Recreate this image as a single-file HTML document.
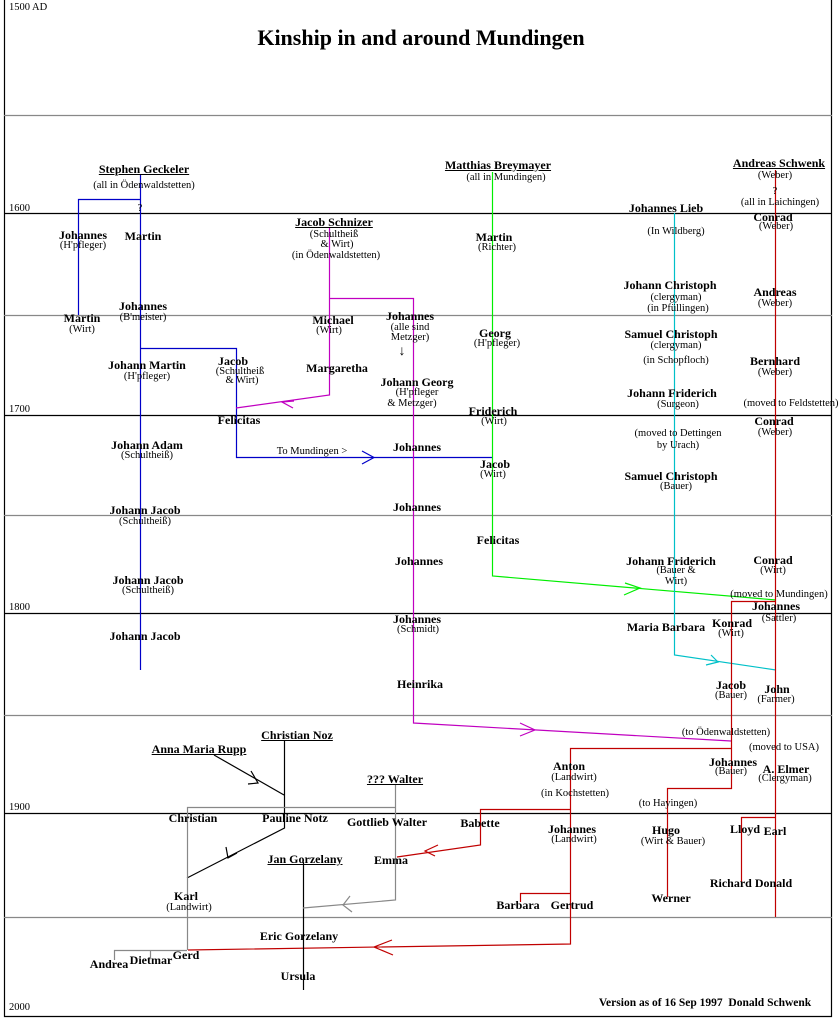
<!DOCTYPE html>
<html><head><meta charset="utf-8"><style>
body{margin:0;background:#fff}
#c{position:relative;width:840px;height:1036px;overflow:hidden;background:#fff;font-family:"Liberation Serif",serif}
svg{position:absolute;left:0;top:0}
.n,.s,.u{position:absolute;transform:translateX(-50%);white-space:nowrap;color:#000}
.n{font-weight:bold;font-size:12px;line-height:14px}
.u{font-weight:bold;font-size:12px;line-height:14px;text-decoration:underline}
.s{font-size:10.5px;line-height:11px}
.y{position:absolute;font-size:10.5px;line-height:11px}
</style></head><body><div id="c">
<svg width="840" height="1036" fill="none" stroke-width="1.2">
<g stroke="#000"><path d="M4.5 0V1016.5H831.5V0"/><path d="M4 213.5H832M4 415.5H832M4 613.5H832M4 813.5H832"/></g>
<g stroke="#888"><path d="M4 115.5H832M4 315.5H832M4 515.5H832M4 715.5H832M4 917.5H832"/></g>
<g stroke="#0000c8"><path d="M140.5 175V670M140 199.5H78.5V315M140 348.5H236.5V457.5H492"/><path d="M362 451L374 457.5L362 464"/></g>
<g stroke="#c000c0"><path d="M329.5 228V395L236 408M329 298.5H413.5V723L731 741"/><path d="M294 401L282 402L293 408M520 723L535 730L520 736"/></g>
<g stroke="#00ee00"><path d="M492.5 172V576L776 600"/><path d="M625 583L640 588L624 595"/></g>
<g stroke="#00c0c8"><path d="M674.5 213V655L776 670"/><path d="M711 655L718 662L706 665"/></g>
<g stroke="#c00000"><path d="M775.5 170V917M775 601.5H731.5V788.5H667.5V897M731 748.5H570.5V944L188 950M570 809.5H480.5V845L397 857M570 893.5H520.5V902M775 817.5H741.5V882"/><path d="M392 940L374 947L393 955M438 845L425 851L435 856"/></g>
<g stroke="#000"><path d="M284.5 740V828L187 878M214 755L284 795M303.5 862V990"/><path d="M251 771L258 783L248 784M226 847L228 858L237 853"/></g>
<g stroke="#888"><path d="M187 807.5H395.5V785M395.5 807V900L303 908M187.5 807V950M187 950.5H114.5V960M150.5 950V958"/><path d="M350 896L343 905L352 912"/></g>
</svg>
<div class="y" style="left:9px;top:2px">1500 AD</div>
<div class="y" style="left:9px;top:203px">1600</div>
<div class="y" style="left:9px;top:404px">1700</div>
<div class="y" style="left:9px;top:602px">1800</div>
<div class="y" style="left:9px;top:802px">1900</div>
<div class="y" style="left:9px;top:1002px">2000</div>
<div class="n" style="left:421px;top:24px;font-size:22px;line-height:28px">Kinship in and around Mundingen</div>

<div class="u" style="left:144px;top:162px">Stephen Geckeler</div><div class="s" style="left:144px;top:180px">(all in Ödenwaldstetten)</div>
<div class="s" style="left:140px;top:203px">?</div>
<div class="n" style="left:83px;top:228px">Johannes</div><div class="s" style="left:83px;top:240px">(H'pfleger)</div>
<div class="n" style="left:143px;top:229px">Martin</div>
<div class="n" style="left:82px;top:311px">Martin</div><div class="s" style="left:82px;top:324px">(Wirt)</div>
<div class="n" style="left:143px;top:299px">Johannes</div><div class="s" style="left:143px;top:312px">(B'meister)</div>
<div class="n" style="left:147px;top:358px">Johann Martin</div><div class="s" style="left:147px;top:371px">(H'pfleger)</div>
<div class="n" style="left:233px;top:354px">Jacob</div><div class="s" style="left:240px;top:366px">(Schultheiß</div><div class="s" style="left:242px;top:375px">&amp; Wirt)</div>
<div class="n" style="left:239px;top:413px">Felicitas</div>
<div class="n" style="left:147px;top:438px">Johann Adam</div><div class="s" style="left:147px;top:450px">(Schultheiß)</div>
<div class="n" style="left:145px;top:503px">Johann Jacob</div><div class="s" style="left:145px;top:516px">(Schultheiß)</div>
<div class="n" style="left:148px;top:573px">Johann Jacob</div><div class="s" style="left:148px;top:585px">(Schultheiß)</div>
<div class="n" style="left:145px;top:629px">Johann Jacob</div>

<div class="u" style="left:334px;top:215px">Jacob Schnizer</div><div class="s" style="left:334px;top:229px">(Schultheiß</div><div class="s" style="left:337px;top:239px">&amp; Wirt)</div><div class="s" style="left:336px;top:250px">(in Ödenwaldstetten)</div>
<div class="n" style="left:333px;top:313px">Michael</div><div class="s" style="left:329px;top:325px">(Wirt)</div>
<div class="n" style="left:337px;top:361px">Margaretha</div>
<div class="n" style="left:410px;top:309px">Johannes</div><div class="s" style="left:410px;top:322px">(alle sind</div><div class="s" style="left:410px;top:332px">Metzger)</div><div class="s" style="left:402px;top:344px;font-size:14px;line-height:16px">↓</div>
<div class="n" style="left:417px;top:375px">Johann Georg</div><div class="s" style="left:417px;top:387px">(H'pfleger</div><div class="s" style="left:412px;top:398px">&amp; Metzger)</div>
<div class="n" style="left:417px;top:440px">Johannes</div>
<div class="s" style="left:312px;top:446px">To Mundingen &gt;</div>
<div class="n" style="left:417px;top:500px">Johannes</div>
<div class="n" style="left:419px;top:554px">Johannes</div>
<div class="n" style="left:417px;top:612px">Johannes</div><div class="s" style="left:418px;top:624px">(Schmidt)</div>
<div class="n" style="left:420px;top:677px">Heinrika</div>

<div class="u" style="left:498px;top:158px">Matthias Breymayer</div><div class="s" style="left:506px;top:172px">(all in Mundingen)</div>
<div class="n" style="left:494px;top:230px">Martin</div><div class="s" style="left:497px;top:242px">(Richter)</div>
<div class="n" style="left:495px;top:326px">Georg</div><div class="s" style="left:497px;top:338px">(H'pfleger)</div>
<div class="n" style="left:493px;top:404px">Friderich</div><div class="s" style="left:494px;top:416px">(Wirt)</div>
<div class="n" style="left:495px;top:457px">Jacob</div><div class="s" style="left:493px;top:469px">(Wirt)</div>
<div class="n" style="left:498px;top:533px">Felicitas</div>

<div class="n" style="left:666px;top:201px">Johannes Lieb</div><div class="s" style="left:676px;top:226px">(In Wildberg)</div>
<div class="n" style="left:670px;top:278px">Johann Christoph</div><div class="s" style="left:676px;top:292px">(clergyman)</div><div class="s" style="left:678px;top:303px">(in Pfüllingen)</div>
<div class="n" style="left:671px;top:327px">Samuel Christoph</div><div class="s" style="left:676px;top:340px">(clergyman)</div><div class="s" style="left:676px;top:355px">(in Schopfloch)</div>
<div class="n" style="left:672px;top:386px">Johann Friderich</div><div class="s" style="left:678px;top:399px">(Surgeon)</div>
<div class="s" style="left:678px;top:428px">(moved to Dettingen</div><div class="s" style="left:678px;top:440px">by Urach)</div>
<div class="n" style="left:671px;top:469px">Samuel Christoph</div><div class="s" style="left:676px;top:481px">(Bauer)</div>
<div class="n" style="left:671px;top:554px">Johann Friderich</div><div class="s" style="left:676px;top:565px">(Bauer &amp;</div><div class="s" style="left:676px;top:576px">Wirt)</div>
<div class="n" style="left:666px;top:620px">Maria Barbara</div>
<div class="n" style="left:732px;top:616px">Konrad</div><div class="s" style="left:731px;top:628px">(Wirt)</div>
<div class="n" style="left:731px;top:678px">Jacob</div><div class="s" style="left:731px;top:690px">(Bauer)</div>
<div class="n" style="left:777px;top:682px">John</div><div class="s" style="left:776px;top:694px">(Farmer)</div>

<div class="u" style="left:779px;top:156px">Andreas Schwenk</div><div class="s" style="left:775px;top:170px">(Weber)</div><div class="s" style="left:775px;top:186px">?</div><div class="s" style="left:780px;top:197px">(all in Laichingen)</div>
<div class="n" style="left:773px;top:210px">Conrad</div><div class="s" style="left:776px;top:221px">(Weber)</div>
<div class="n" style="left:775px;top:285px">Andreas</div><div class="s" style="left:775px;top:298px">(Weber)</div>
<div class="n" style="left:775px;top:354px">Bernhard</div><div class="s" style="left:775px;top:367px">(Weber)</div>
<div class="s" style="left:791px;top:398px">(moved to Feldstetten)</div>
<div class="n" style="left:774px;top:414px">Conrad</div><div class="s" style="left:775px;top:427px">(Weber)</div>
<div class="n" style="left:773px;top:553px">Conrad</div><div class="s" style="left:773px;top:565px">(Wirt)</div>
<div class="s" style="left:779px;top:589px">(moved to Mundingen)</div>
<div class="n" style="left:776px;top:599px">Johannes</div><div class="s" style="left:779px;top:613px">(Sattler)</div>
<div class="s" style="left:726px;top:727px">(to Ödenwaldstetten)</div>
<div class="s" style="left:784px;top:742px">(moved to USA)</div>
<div class="n" style="left:733px;top:755px">Johannes</div><div class="s" style="left:731px;top:766px">(Bauer)</div>
<div class="n" style="left:786px;top:762px">A. Elmer</div><div class="s" style="left:785px;top:773px">(Clergyman)</div>
<div class="n" style="left:569px;top:759px">Anton</div><div class="s" style="left:574px;top:772px">(Landwirt)</div>
<div class="s" style="left:575px;top:788px">(in Kochstetten)</div>
<div class="s" style="left:668px;top:798px">(to Hayingen)</div>
<div class="n" style="left:572px;top:822px">Johannes</div><div class="s" style="left:574px;top:834px">(Landwirt)</div>
<div class="n" style="left:666px;top:823px">Hugo</div><div class="s" style="left:673px;top:836px">(Wirt &amp; Bauer)</div>
<div class="n" style="left:745px;top:822px">Lloyd</div><div class="n" style="left:775px;top:824px">Earl</div>
<div class="n" style="left:751px;top:876px">Richard Donald</div>
<div class="n" style="left:671px;top:891px">Werner</div>
<div class="n" style="left:518px;top:898px">Barbara</div><div class="n" style="left:572px;top:898px">Gertrud</div>
<div class="n" style="left:480px;top:816px">Babette</div>
<div class="n" style="left:391px;top:853px">Emma</div>
<div class="n" style="left:387px;top:815px">Gottlieb Walter</div>
<div class="u" style="left:395px;top:772px">??? Walter</div>
<div class="u" style="left:297px;top:728px">Christian Noz</div>
<div class="u" style="left:199px;top:742px">Anna Maria Rupp</div>
<div class="n" style="left:193px;top:811px">Christian</div><div class="n" style="left:295px;top:811px">Pauline Notz</div>
<div class="u" style="left:305px;top:852px">Jan Gorzelany</div>
<div class="n" style="left:186px;top:889px">Karl</div><div class="s" style="left:189px;top:902px">(Landwirt)</div>
<div class="n" style="left:299px;top:929px">Eric Gorzelany</div>
<div class="n" style="left:186px;top:948px">Gerd</div><div class="n" style="left:151px;top:953px">Dietmar</div><div class="n" style="left:109px;top:957px">Andrea</div>
<div class="n" style="left:298px;top:969px">Ursula</div>
<div class="n" style="left:705px;top:996px;font-size:11.5px">Version as of 16 Sep 1997&nbsp; Donald Schwenk</div>
</div></body></html>
